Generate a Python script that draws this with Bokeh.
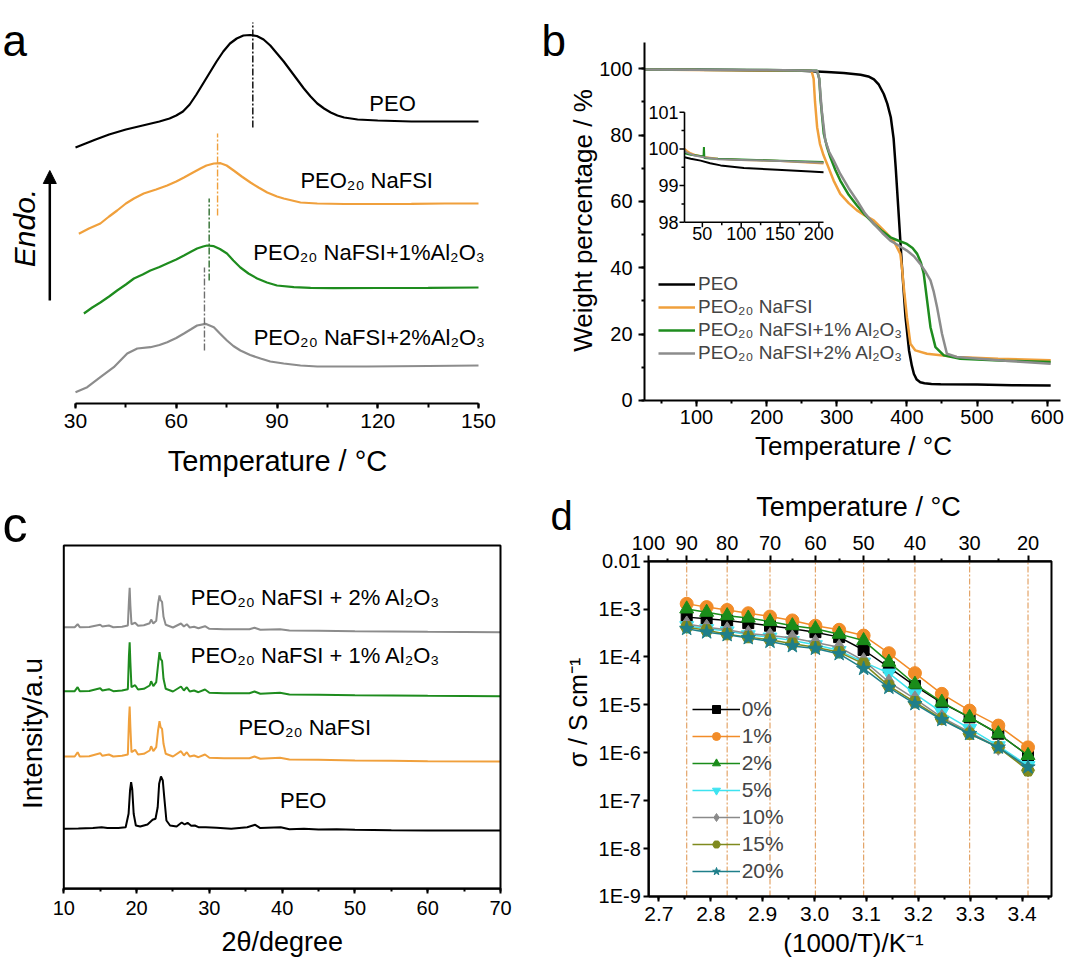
import numpy as np
from math import pi, log10
from bokeh.plotting import figure
from bokeh.layouts import row, column
from bokeh.models import (Range1d, SingleIntervalTicker, FixedTicker, LinearAxis, Label,
                          Arrow, NormalHead, Legend, LegendItem, BoxAnnotation,
                          CustomJSTickFormatter, NumeralTickFormatter)
from bokeh.core.properties import value
from bokeh.embed import file_html
from bokeh.resources import INLINE

FONT = "Liberation Sans"
BLACK = "#000000"
ORANGE = "#F0A03C"
GREEN = "#1E8C1E"
GRAY = "#8C8C8C"

# ---------------- (a) DSC curves (heat flow, a.u., stacked) ----------------
dsc_peo_T = [30, 33, 36, 40, 45, 50, 55, 58, 60, 62, 64, 66, 68, 70, 72, 74, 76, 78, 80, 82,
             84, 86, 88, 90, 92, 94, 96, 98, 100, 102, 104, 106, 108, 110, 114, 120, 130, 140, 150]
dsc_peo = [256, 260, 264, 269, 274, 278, 282, 285, 288, 292, 299, 309, 320, 331, 342, 352, 360, 365, 368, 368.5,
           367.5, 364, 358, 350, 342, 333, 324, 315, 307, 300, 295, 291, 288, 286, 284, 283, 282, 282, 282]
dsc_na_T = [31, 34, 37.4, 40, 42.4, 45, 47.4, 50.3, 54, 57.3, 60, 62.3, 65, 67.2, 69, 71.2, 73.2, 75, 77.1, 79.5,
            82.1, 84.5, 87.1, 90, 92, 97, 102, 110, 120, 130, 140, 150]
dsc_na = [169.7, 175, 180, 187, 193, 200, 205, 210, 214, 218, 222, 226, 231, 235, 238, 240, 240.3, 238, 233, 227,
          221, 216, 211, 207, 205, 201, 200, 199.5, 199.5, 199.7, 200, 200]
dsc_1_T = [32.5, 35, 37.4, 40, 42.4, 45, 47.4, 50, 52.3, 55, 57.3, 60, 62.3, 64.5, 66.2, 68, 69.2, 71.2, 73, 75.1,
           77, 79.1, 81.5, 84.1, 87, 90, 95, 100, 106.9, 120, 135, 150]
dsc_1 = [90, 96, 101, 107, 113, 119, 125, 129, 133, 136.5, 140, 144, 148, 152, 155, 157, 158, 157.3, 154.5, 150,
         143, 136, 130, 125, 121, 118, 116.3, 115.7, 115.3, 115.5, 115.7, 116]
dsc_2_T = [30, 33.5, 37.4, 41.4, 45.4, 48.4, 52.3, 55, 57.3, 60, 62.3, 64.5, 66.2, 68.7, 71.2, 73, 75.1, 77, 79.1, 82,
           85.1, 88, 92, 97, 102, 116.8, 135, 150]
dsc_2 = [11.3, 16.3, 26.3, 36.3, 50, 55, 56.3, 58.5, 61.3, 65.5, 70, 74.5, 78, 79.7, 76.3, 70, 63, 57.5, 53, 48.5,
         45, 42, 40, 38, 37, 37, 37.5, 38]
dsc_tm = [82.8, 72.3, 69.8, 68.4]          # peak (melting) temperatures
dsc_names = ["PEO", "PEO₂₀ NaFSI", "PEO₂₀ NaFSI+1%Al₂O₃", "PEO₂₀ NaFSI+2%Al₂O₃"]

# ---------------- (b) TGA curves ----------------
tga_peo_T = [26, 50, 100, 150, 200, 250, 286, 310, 334, 345, 353, 360, 367, 372, 377, 381, 384, 388.5, 393, 398,
             403, 407, 410, 414, 419, 425, 435, 448, 500, 550, 605]
tga_peo = [99.9, 99.8, 99.7, 99.6, 99.5, 99.4, 99.0, 98.7, 98.2, 97.7, 96.8, 95.2, 92.4, 89.5, 85.4, 79, 70.3, 55.3, 40.2, 25.1,
           15.1, 10.5, 8.0, 6.3, 5.5, 5.2, 5.0, 4.9, 4.8, 4.6, 4.5]
tga_na_T = [26, 100, 200, 264, 267, 269, 272, 276, 281, 286, 295.5, 305, 317, 328.8, 340, 352.6, 367, 381, 390.6, 393,
            395, 400, 405, 412, 428.6, 471, 530, 605]
tga_na = [99.8, 99.6, 99.5, 99.4, 97, 90, 82.4, 77.4, 74, 71.4, 66.3, 62.3, 59.5, 57.3, 55.8, 54.3, 51.3, 48.2, 44.2, 40,
          35.2, 25.1, 17.1, 15.1, 14.1, 13.1, 12.6, 12.1]
tga_1_T = [26, 100, 200, 272, 275, 277, 281.5, 286, 290.8, 298, 305, 317, 328.8, 340, 352.6, 365, 376.4, 390, 400, 408,
           414.6, 420, 424, 428.8, 433.6, 440.7, 452.6, 476, 540, 605]
tga_1 = [99.8, 99.7, 99.6, 99.4, 97, 90.5, 80.4, 76.5, 73.4, 69.5, 66.3, 62, 58.8, 56, 53.3, 51, 49.2, 48, 47.2, 46,
         44.2, 41.5, 38.2, 30.1, 22.1, 16.1, 13.6, 12.6, 12.0, 11.6]
tga_2_T = [26, 100, 200, 272, 275, 278.6, 283.6, 289, 295.5, 305, 317, 328.8, 340, 352.6, 365, 376.4, 390, 400, 410, 419,
           426, 433.6, 438, 443, 450, 457, 471, 540, 605]
tga_2 = [99.8, 99.7, 99.6, 99.4, 97, 87.4, 78.4, 75, 72.4, 68.3, 64, 60.3, 56.5, 53.3, 50.5, 48.2, 46.5, 45.2, 43.5, 41.2,
         39, 36.2, 33, 28.1, 20.1, 14.1, 13.1, 12.0, 11.1]
tga_names = ["PEO", "PEO₂₀ NaFSI", "PEO₂₀ NaFSI+1% Al₂O₃", "PEO₂₀ NaFSI+2% Al₂O₃"]
# inset (zoom 27-206 °C)
ins_peo_T = [27, 35, 47.8, 60, 73.5, 103.5, 146.4, 189.2, 206]
ins_peo = [99.77, 99.73, 99.68, 99.61, 99.55, 99.48, 99.43, 99.38, 99.36]
ins_na_T = [27, 30, 35, 40, 52, 70, 100, 150, 206]
ins_na = [100.0, 99.95, 99.88, 99.84, 99.78, 99.73, 99.70, 99.67, 99.60]
ins_1_T = [27, 35, 45, 51.5, 52, 52.6, 60, 70, 100, 150, 206]
ins_1 = [99.88, 99.84, 99.81, 99.79, 100.05, 99.75, 99.74, 99.73, 99.71, 99.68, 99.64]
ins_2_T = [27, 30, 40, 52, 70, 100, 150, 206]
ins_2 = [99.95, 99.90, 99.82, 99.77, 99.72, 99.70, 99.67, 99.62]
ins_xticks = [50, 100, 150, 200]
ins_xminor = [75, 125, 175]
ins_yticks = [98, 99, 100, 101]
ins_yminor = [98.5, 99.5, 100.5]

# ---------------- (c) XRD patterns (stacked, a.u.) ----------------
xrd_peo_2t = [10, 12, 14, 15.2, 16, 17.5, 18.5, 18.9, 19.1, 19.25, 19.4, 19.6, 19.9, 20.5, 21.5, 22.2, 22.6, 22.9, 23.1, 23.35,
              23.6, 23.8, 24.1, 24.6, 25.5, 26.2, 26.6, 27.0, 27.5, 28.0, 28.5, 29.5, 31, 33, 35.2, 36.3, 37, 39.8, 41, 43,
              45, 47.5, 50, 55, 60, 65, 70]
xrd_peo = [60.0, 60.3, 60.7, 61.6, 60.7, 60.7, 61.6, 75, 98.3, 106.6, 100, 75, 63.3, 62.3, 64.3, 69, 70, 81.6, 105, 112.3,
           108.3, 91.6, 68.3, 63.3, 62.3, 66.3, 64.3, 66, 63, 63.3, 61.6, 61.6, 61, 60, 61.6, 64, 60.7, 61.6, 59.6, 60,
           59.3, 59.6, 59, 58.6, 58.3, 58.3, 58.3]
xrd_2t = [10, 11.5, 11.9, 12.2, 13.5, 15.0, 15.3, 16.2, 16.8, 18.0, 18.8, 18.95, 19.05, 19.15, 19.3, 19.8, 20.2, 21.0, 21.8, 22.0,
          22.3, 22.7, 22.95, 23.15, 23.3, 23.5, 23.7, 24.0, 25.0, 26.1, 26.5, 26.9, 27.3, 27.9, 28.5, 29.4, 30, 32, 35.5, 36.2,
          37, 39.7, 41, 45, 50, 55, 60, 70]
xrd_na = [132.3, 132.3, 136.6, 132.3, 132.5, 135.6, 133, 134.3, 132.3, 133, 134.3, 168.3, 182.3, 161.6, 136.6, 139, 134.3, 135, 138.3, 142.6,
          137.6, 141.6, 158.3, 167.6, 161.6, 160, 145, 135, 132.3, 137.6, 133.3, 136.6, 132.3, 133.3, 131.6, 134.3, 131, 130.6, 130.6, 132.3,
          130, 131, 129.3, 129, 128.3, 128, 127.6, 127.3]
xrd_1 = [197.6, 197.6, 201.6, 197.6, 197.8, 200.6, 198.3, 199.6, 197.6, 198.3, 199.6, 233, 246.6, 226, 201.6, 203.6, 199.3, 200, 203.3, 207.6,
         202.6, 206.6, 224, 236.6, 230, 228, 210, 200, 197.3, 202.3, 198.3, 201.6, 197.3, 198.3, 196.6, 199.3, 196, 195.6, 195.6, 197.3,
         195, 196, 194.3, 194, 193.6, 193.3, 193, 192.6]
xrd_2 = [261.6, 261.6, 264.6, 261.6, 261.8, 264, 262.3, 263.3, 261.6, 262, 263.3, 288, 301, 283, 264.6, 266, 263, 263.6, 265.6, 269.3,
         265.3, 268, 285, 293.3, 288.6, 287, 272, 264, 261.3, 265.3, 262.3, 264.6, 261.3, 262, 260.6, 262.6, 260, 259.6, 259.6, 261,
         259, 259.6, 258.3, 258, 257.6, 257.3, 257, 256.6]
xrd_names = ["PEO", "PEO₂₀ NaFSI", "PEO₂₀ NaFSI + 1% Al₂O₃", "PEO₂₀ NaFSI + 2% Al₂O₃"]

# ---------------- (d) ionic conductivity ----------------
meas_T = [90, 85, 80, 75, 70, 65, 60, 55, 50, 45, 40, 35, 30, 25, 20]   # °C
cond_0 = [6.8e-4, 6.3e-4, 5.8e-4, 5.1e-4, 4.5e-4, 3.9e-4, 3.3e-4, 2.6e-4, 1.4e-4, 6.1e-5, 2.5e-5, 1.1e-5, 5.5e-6, 2.5e-6, 8.8e-7]
cond_1 = [1.29e-3, 1.1e-3, 9.6e-4, 8.2e-4, 7.0e-4, 5.8e-4, 4.5e-4, 3.7e-4, 2.8e-4, 1.2e-4, 4.6e-5, 1.7e-5, 7.6e-6, 3.7e-6, 1.3e-6]
cond_2 = [1.01e-3, 8.6e-4, 7.3e-4, 6.5e-4, 5.5e-4, 4.5e-4, 3.9e-4, 3.0e-4, 2.2e-4, 7.8e-5, 2.7e-5, 1.14e-5, 5.5e-6, 2.5e-6, 8.8e-7]
cond_5 = [4.5e-4, 3.9e-4, 3.5e-4, 2.9e-4, 2.6e-4, 2.2e-4, 1.8e-4, 1.36e-4, 7.8e-5, 4.6e-5, 1.7e-5, 7.0e-6, 3.2e-6, 1.4e-6, 5.4e-7]
cond_10 = [4.9e-4, 4.2e-4, 3.7e-4, 3.1e-4, 2.8e-4, 2.5e-4, 2.0e-4, 1.6e-4, 8.4e-5, 3.0e-5, 1.34e-5, 5.5e-6, 2.7e-6, 1.3e-6, 4.6e-7]
cond_15 = [4.2e-4, 3.6e-4, 3.0e-4, 2.6e-4, 2.3e-4, 1.9e-4, 1.6e-4, 1.26e-4, 7.2e-5, 2.5e-5, 1.14e-5, 5.1e-6, 2.5e-6, 1.3e-6, 4.3e-7]
cond_20 = [3.9e-4, 3.3e-4, 2.9e-4, 2.5e-4, 2.1e-4, 1.7e-4, 1.5e-4, 1.16e-4, 5.7e-5, 2.3e-5, 1.05e-5, 4.9e-6, 2.5e-6, 1.3e-6, 5.0e-7]
cond_labels = ["0%", "1%", "2%", "5%", "10%", "15%", "20%"]
top_T_major = [100, 90, 80, 70, 60, 50, 40, 30, 20]
top_T_minor = [95, 85, 75, 65, 55, 45, 35, 25]
y_decades = [1e-9, 1e-8, 1e-7, 1e-6, 1e-5, 1e-4, 1e-3, 1e-2]


def style_axis(ax, tick_px, tick_out=6, minor_out=3, label_standoff=5):
    ax.axis_line_color = "black"
    ax.axis_line_width = 2
    ax.major_tick_line_color = "black"
    ax.major_tick_line_width = 2
    ax.minor_tick_line_color = "black"
    ax.minor_tick_line_width = 2
    ax.major_tick_in = 0
    ax.major_tick_out = tick_out
    ax.minor_tick_in = 0
    ax.minor_tick_out = minor_out
    ax.major_label_text_font = FONT
    ax.major_label_text_font_size = f"{tick_px}px"
    ax.major_label_text_color = "black"
    ax.major_label_standoff = label_standoff


def txt(p, text, sx, sy, size, angle=0.0, style="normal", align="center", baseline="middle"):
    p.add_layout(Label(x=sx, y=sy, x_units="screen", y_units="screen", text=text, angle=angle,
                       text_font=FONT, text_font_size=f"{size}px", text_font_style=style,
                       text_align=align, text_baseline=baseline, text_color="black"))


def box(p, left, right, bottom, top):
    p.add_layout(BoxAnnotation(left=left, right=right, bottom=bottom, top=top,
                               fill_color=None, fill_alpha=0, line_color="black",
                               line_alpha=1.0, line_width=2))


def base(w, h, xr, yr, **kw):
    p = figure(width=w, height=h, x_range=xr, y_range=yr, output_backend="svg",
               toolbar_location=None, min_border=0, min_border_left=0, min_border_right=0,
               min_border_top=0, min_border_bottom=0, **kw)
    p.title.visible = False
    p.xgrid.visible = False
    p.ygrid.visible = False
    p.outline_line_color = None
    p.background_fill_color = "white"
    p.border_fill_color = "white"
    return p


# ================= panel a =================
pa = base(540, 478, Range1d(7.667, 168.46), Range1d(-75, 403), y_axis_location=None)
ax = pa.below[0]
ax.fixed_location = 0
ax.bounds = (30, 150)
ax.ticker = SingleIntervalTicker(interval=30, num_minor_ticks=2)
style_axis(ax, 21, 5, 4, 5)
for xs, ys, c in [(dsc_peo_T, dsc_peo, BLACK), (dsc_na_T, dsc_na, ORANGE),
                  (dsc_1_T, dsc_1, GREEN), (dsc_2_T, dsc_2, GRAY)]:
    pa.line(xs, ys, line_color=c, line_width=2.2)
pa.segment(x0=dsc_tm, y0=[276, 188, 123, 53], x1=dsc_tm, y1=[381, 270, 205, 136],
           line_color=[BLACK, ORANGE, "#2E6E2E", "#6E6E6E"], line_width=1.4, line_dash="7 2 2 2")
for t, x, y in zip(dsc_names, [124.4, 116.7, 117.4, 117.5], [300, 223, 151, 66]):
    pa.add_layout(Label(x=x, y=y, text=t, text_font=FONT, text_font_size="22px",
                        text_align="center", text_baseline="middle", text_color="black"))
txt(pa, "Temperature / °C", 277, 18, 29)
txt(pa, "Endo.", 23.5, 250.5, 30, angle=pi / 2, style="italic")
pa.add_layout(Arrow(end=NormalHead(size=13, fill_color="black", line_color="black"),
                    x_start=49.3, y_start=178, x_end=49.3, y_end=308,
                    start_units="screen", end_units="screen", line_width=2.5, line_color="black"))
txt(pa, "a", 2, 438, 44, align="left", baseline="alphabetic")

# ================= panel b =================
pb = base(540, 478, Range1d(-122.41, 647.48), Range1d(-23.52, 120.59))
bx = pb.below[0]
bx.fixed_location = 0
bx.bounds = (25.9, 619)
bx.ticker = SingleIntervalTicker(interval=100, num_minor_ticks=2)
style_axis(bx, 20, 6, 3, 4)
by = pb.left[0]
by.fixed_location = 25.9
by.bounds = (0, 107.9)
by.ticker = SingleIntervalTicker(interval=20, num_minor_ticks=2)
style_axis(by, 20, 6, 3, 6)
rb = []
for xs, ys, c in [(tga_peo_T, tga_peo, BLACK), (tga_na_T, tga_na, ORANGE),
                  (tga_1_T, tga_1, GREEN), (tga_2_T, tga_2, GRAY)]:
    rb.append(pb.line(xs, ys, line_color=c, line_width=2.5))
leg_b = Legend(items=[LegendItem(label=n, renderers=[r]) for n, r in zip(tga_names, rb)],
               location=(118, 114), label_text_font=FONT, label_text_font_size="19px",
               glyph_width=37, glyph_height=20, label_height=20, label_standoff=3, spacing=1,
               padding=0, margin=0, border_line_alpha=0, background_fill_alpha=0)
pb.add_layout(leg_b)
txt(pb, "Temperature / °C", 313, 33, 26)
txt(pb, "Weight percentage / %", 42, 258, 26, angle=pi / 2)
txt(pb, "b", 1, 438, 44, align="left", baseline="alphabetic")

ins_xr = Range1d(27, 206)
ins_yr = Range1d(98, 101)
ins = pb.subplot(x_source=ins_xr, y_source=ins_yr,
                 x_target=Range1d(82.9, 281.1), y_target=Range1d(53.75, 86.9))
for xs, ys, c in [(ins_peo_T, ins_peo, BLACK), (ins_na_T, ins_na, ORANGE),
                  (ins_1_T, ins_1, GREEN), (ins_2_T, ins_2, GRAY)]:
    ins.line(xs, ys, line_color=c, line_width=2)
ins.segment(x0=[ins_xr.start, ins_xr.start], y0=[ins_yr.start, ins_yr.start],
            x1=[ins_xr.end, ins_xr.start], y1=[ins_yr.start, ins_yr.end],
            line_color="black", line_width=1.6)
ins.ray(x=ins_xticks, y=ins_yr.start, length=5, angle=-pi / 2, length_units="screen",
        line_color="black", line_width=1.5)
ins.ray(x=ins_xminor, y=ins_yr.start, length=3, angle=-pi / 2, length_units="screen",
        line_color="black", line_width=1.5)
ins.ray(x=ins_xr.start, y=ins_yticks, length=5, angle=pi, length_units="screen",
        line_color="black", line_width=1.5)
ins.ray(x=ins_xr.start, y=ins_yminor, length=3, angle=pi, length_units="screen",
        line_color="black", line_width=1.5)
ins.text(x=ins_xticks, y=ins_yr.start, text=[str(v) for v in ins_xticks], y_offset=5,
         text_align="center", text_baseline="top", text_font=value(FONT), text_font_size="18px",
         text_color="black")
ins.text(x=ins_xr.start, y=ins_yticks, text=[str(v) for v in ins_yticks], x_offset=-6,
         text_align="right", text_baseline="middle", text_font=value(FONT), text_font_size="18px",
         text_color="black")

# ================= panel c =================
pc = base(540, 479, Range1d(1.303, 75.496), Range1d(-68.7, 410.3), y_axis_location=None)
cx = pc.below[0]
cx.fixed_location = 0
cx.bounds = (10, 70)
cx.ticker = SingleIntervalTicker(interval=10, num_minor_ticks=2)
style_axis(cx, 20, 5, 3, 7)
box(pc, 10, 70, 0, 343.3)
for xs, ys, c in [(xrd_peo_2t, xrd_peo, BLACK), (xrd_2t, xrd_na, ORANGE),
                  (xrd_2t, xrd_1, GREEN), (xrd_2t, xrd_2, GRAY)]:
    pc.line(xs, ys, line_color=c, line_width=2)
for t, x, y in zip(xrd_names, [42.9, 43.1, 44.6, 44.6], [88.3, 161.6, 233.3, 291.6]):
    pc.add_layout(Label(x=x, y=y, text=t, text_font=FONT, text_font_size="22px",
                        text_align="center", text_baseline="middle", text_color="black"))
txt(pc, "2θ/degree", 281.7, 15.3, 27)
txt(pc, "Intensity/a.u", 31.7, 224, 28, angle=pi / 2)
txt(pc, "c", 2, 433, 50, align="left", baseline="alphabetic")

# ================= panel d =================
inv_T = [1000.0 / (t + 273.15) for t in meas_T]
X_LEFT, X_RIGHT = 2.68073, 3.45645
pd_ = base(540, 479, Range1d(2.47206, 3.51233), Range1d(10 ** -10.27349, 10 ** -0.27349), y_axis_type="log")
dx = pd_.below[0]
dx.fixed_location = 1e-9
dx.bounds = (X_LEFT, X_RIGHT)
dx.ticker = SingleIntervalTicker(interval=0.1, num_minor_ticks=2)
dx.formatter = NumeralTickFormatter(format="0.0")
style_axis(dx, 21, 5, 3, 6)
dy = pd_.left[0]
dy.fixed_location = X_LEFT
dy.bounds = (1e-9, 1e-2)
dy.ticker = FixedTicker(ticks=y_decades, minor_ticks=[])
dy.formatter = CustomJSTickFormatter(code="""
const e = Math.round(Math.log10(tick));
return e == -2 ? "0.01" : "1E" + e;
""")
style_axis(dy, 20, 5, 0, 3)
top_ax = LinearAxis(ticker=FixedTicker(ticks=[1000.0 / (t + 273.15) for t in top_T_major],
                                       minor_ticks=[1000.0 / (t + 273.15) for t in top_T_minor]),
                    formatter=CustomJSTickFormatter(code="return Math.round(1000/tick - 273.15).toString();"))
top_ax.fixed_location = 1e-2
top_ax.bounds = (X_LEFT, X_RIGHT)
style_axis(top_ax, 20, 6, 3, 5)
pd_.add_layout(top_ax, "above")
box(pd_, X_LEFT, X_RIGHT, 1e-9, 1e-2)
grid_x = [1000.0 / (t + 273.15) for t in top_T_major[1:]]
pd_.segment(x0=grid_x, y0=1e-9, x1=grid_x, y1=1e-2, line_color="#E3A468", line_width=1.2,
            line_dash="6 2 2 2")

series = [(cond_0, BLACK, "square", 11), (cond_1, "#F28C28", "circle", 13),
          (cond_2, "#1A8C1A", "triangle", 14), (cond_5, "#3DE3F0", "inverted_triangle", 14),
          (cond_10, "#8A8A8A", "diamond", 16), (cond_15, "#7F8A1E", "hex", 13),
          (cond_20, "#1F7F8A", "star", 15)]
items = []
for (ys, c, m, s), lab in zip(series, cond_labels):
    lr = pd_.line(inv_T, ys, line_color=c, line_width=1.5)
    sr = pd_.scatter(inv_T, ys, marker=m, size=s, fill_color=c, line_color=c)
    items.append(LegendItem(label=lab, renderers=[lr, sr]))
leg_d = Legend(items=items, location=(151.7, 74), label_text_font=FONT, label_text_font_size="21px",
               glyph_width=48, glyph_height=20, label_height=20, label_standoff=2, spacing=3,
               padding=0, margin=0, border_line_alpha=0, background_fill_alpha=0)
pd_.add_layout(leg_d)
txt(pd_, "(1000/T)/K⁻¹", 313, 15, 26)
txt(pd_, "Temperature / °C", 318, 450.3, 27)
txt(pd_, "σ / S cm⁻¹", 37, 245, 25, angle=pi / 2)
txt(pd_, "d", 10, 442, 40, align="left", baseline="alphabetic")

layout = column(row(pa, pb), row(pc, pd_))
open("out.html", "w").write(file_html(layout, INLINE))
